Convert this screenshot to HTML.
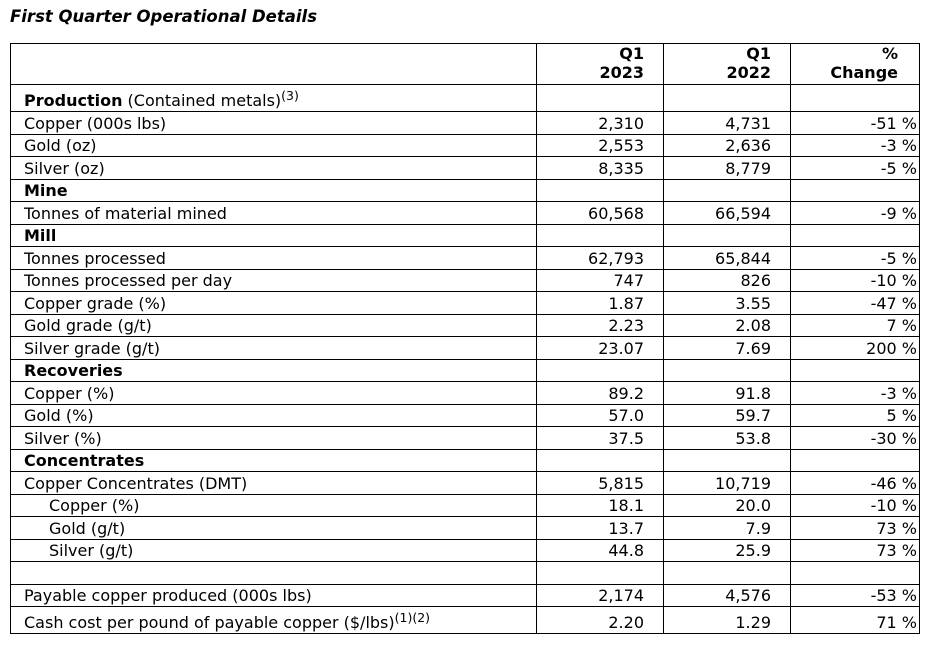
<!DOCTYPE html>
<html><head><meta charset="utf-8"><style>
body{margin:0;background:#fff;width:932px;height:646px;overflow:hidden;font-family:"DejaVu Sans","Liberation Sans",sans-serif;color:#000;}
.title{position:absolute;left:10px;top:7px;font-size:16.5px;font-weight:bold;font-style:italic;}
table{position:absolute;left:10px;top:43px;border-collapse:collapse;table-layout:fixed;font-size:16px;}
td{border:1px solid #000;padding:0;line-height:1;white-space:nowrap;vertical-align:bottom;padding-bottom:2px;overflow:hidden;}
td.l{padding-left:13px;}
td.i{padding-left:38px;}
td.n{text-align:right;padding-right:19px;}
td.p{text-align:right;padding-right:2px;}
tr{height:22.5px;}
tr.h{height:41px;}
tr.h td{font-weight:bold;text-align:right;line-height:19px;}
tr.t{height:27px;}
sup{font-size:12.5px;vertical-align:6px;line-height:0;}
b{font-weight:bold;}
</style></head><body>
<div class="title">First Quarter Operational Details</div>
<table>
<colgroup><col style="width:526px"><col style="width:127px"><col style="width:127px"><col style="width:129px"></colgroup>
<tr class="h"><td></td><td style="padding-right:19px">Q1<br>2023</td><td style="padding-right:19px">Q1<br>2022</td><td style="padding-right:21px">%<br>Change</td></tr>
<tr class="t"><td class="l"><b>Production</b> (Contained metals)<sup>(3)</sup></td><td></td><td></td><td></td></tr>
<tr><td class="l">Copper (000s lbs)</td><td class="n">2,310</td><td class="n">4,731</td><td class="p">-51 %</td></tr>
<tr><td class="l">Gold (oz)</td><td class="n">2,553</td><td class="n">2,636</td><td class="p">-3 %</td></tr>
<tr><td class="l">Silver (oz)</td><td class="n">8,335</td><td class="n">8,779</td><td class="p">-5 %</td></tr>
<tr><td class="l"><b>Mine</b></td><td></td><td></td><td></td></tr>
<tr><td class="l">Tonnes of material mined</td><td class="n">60,568</td><td class="n">66,594</td><td class="p">-9 %</td></tr>
<tr><td class="l"><b>Mill</b></td><td></td><td></td><td></td></tr>
<tr><td class="l">Tonnes processed</td><td class="n">62,793</td><td class="n">65,844</td><td class="p">-5 %</td></tr>
<tr><td class="l">Tonnes processed per day</td><td class="n">747</td><td class="n">826</td><td class="p">-10 %</td></tr>
<tr><td class="l">Copper grade (%)</td><td class="n">1.87</td><td class="n">3.55</td><td class="p">-47 %</td></tr>
<tr><td class="l">Gold grade (g/t)</td><td class="n">2.23</td><td class="n">2.08</td><td class="p">7 %</td></tr>
<tr><td class="l">Silver grade (g/t)</td><td class="n">23.07</td><td class="n">7.69</td><td class="p">200 %</td></tr>
<tr><td class="l"><b>Recoveries</b></td><td></td><td></td><td></td></tr>
<tr><td class="l">Copper (%)</td><td class="n">89.2</td><td class="n">91.8</td><td class="p">-3 %</td></tr>
<tr><td class="l">Gold (%)</td><td class="n">57.0</td><td class="n">59.7</td><td class="p">5 %</td></tr>
<tr><td class="l">Silver (%)</td><td class="n">37.5</td><td class="n">53.8</td><td class="p">-30 %</td></tr>
<tr><td class="l"><b>Concentrates</b></td><td></td><td></td><td></td></tr>
<tr><td class="l">Copper Concentrates (DMT)</td><td class="n">5,815</td><td class="n">10,719</td><td class="p">-46 %</td></tr>
<tr><td class="i">Copper (%)</td><td class="n">18.1</td><td class="n">20.0</td><td class="p">-10 %</td></tr>
<tr><td class="i">Gold (g/t)</td><td class="n">13.7</td><td class="n">7.9</td><td class="p">73 %</td></tr>
<tr><td class="i">Silver (g/t)</td><td class="n">44.8</td><td class="n">25.9</td><td class="p">73 %</td></tr>
<tr><td></td><td></td><td></td><td></td></tr>
<tr><td class="l">Payable copper produced (000s lbs)</td><td class="n">2,174</td><td class="n">4,576</td><td class="p">-53 %</td></tr>
<tr class="t"><td class="l">Cash cost per pound of payable copper ($/lbs)<sup>(1)(2)</sup></td><td class="n">2.20</td><td class="n">1.29</td><td class="p">71 %</td></tr>
</table>
</body></html>
